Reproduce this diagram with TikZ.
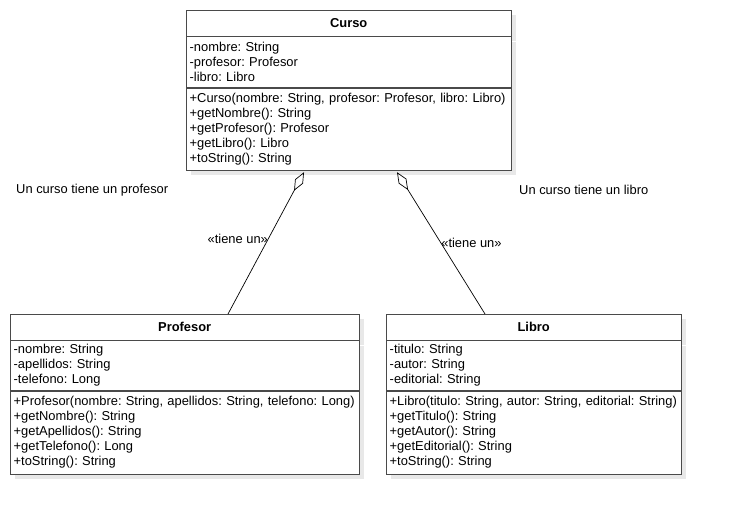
\documentclass[tikz,border=0pt]{standalone}
\usepackage{fontspec}
\setmainfont{Liberation Sans}
\usetikzlibrary{positioning,shadows,arrows.meta}
\definecolor{umlline}{HTML}{4A4A4A}
\definecolor{umlshadow}{HTML}{E8E8E8}
\newcommand{\umlfont}{\fontsize{12.9}{15}\selectfont}
\frenchspacing

\begin{document}
\begin{tikzpicture}[x=1pt, y=-1pt,
  node distance=0pt,
  umlshade/.style={drop shadow={shadow xshift=5pt, shadow yshift=-5pt,
                   fill=umlshadow, opacity=1}},
  classhead/.style={draw=umlline, fill=white, umlshade, inner sep=0pt,
              minimum height=26pt, font=\umlfont\bfseries},
  classpart/.style={draw=umlline, fill=white, umlshade, align=left,
              inner xsep=3.5pt, inner ysep=1pt, font=\umlfont\frenchspacing},
  aggr/.style={{Diamond[open, length=21pt, width=9pt]}-, line width=0.7pt},
  lbl/.style={inner sep=0pt, font=\umlfont},
  note/.style={inner sep=0pt, font=\umlfont, anchor=west}
]
  \fill[white] (0,0) rectangle (738,514);
  \useasboundingbox (0,0) rectangle (738,514);

  % Curso
  \node[classhead, minimum width=325pt, anchor=north west] (cursoH) at (186,10) {Curso};
  \node[classpart, text width=318pt, minimum height=51pt, below=of cursoH] (cursoA)
    {-nombre: String\\-profesor: Profesor\\-libro: Libro};
  \node[classpart, text width=318pt, minimum height=82pt, below=of cursoA] (cursoM)
    {+Curso(nombre: String, profesor: Profesor, libro: Libro)\\+getNombre(): String\\
     +getProfesor(): Profesor\\+getLibro(): Libro\\+toString(): String};

  % Profesor
  \node[classhead, minimum width=349pt, anchor=north west] (profH) at (10,314) {Profesor};
  \node[classpart, text width=342pt, minimum height=50pt, below=of profH] (profA)
    {-nombre: String\\-apellidos: String\\-telefono: Long};
  \node[classpart, text width=342pt, minimum height=83pt, below=of profA] (profM)
    {+Profesor(nombre: String, apellidos: String, telefono: Long)\\+getNombre(): String\\
     +getApellidos(): String\\+getTelefono(): Long\\+toString(): String};

  % Libro
  \node[classhead, minimum width=295pt, anchor=north west] (libroH) at (386,314) {Libro};
  \node[classpart, text width=288pt, minimum height=50pt, below=of libroH] (libroA)
    {-titulo: String\\-autor: String\\-editorial: String};
  \node[classpart, text width=288pt, minimum height=83pt, below=of libroA] (libroM)
    {+Libro(titulo: String, autor: String, editorial: String)\\+getTitulo(): String\\
     +getAutor(): String\\+getEditorial(): String\\+toString(): String};

  % puntos de union
  \coordinate (cursoP) at ([xshift=118pt, yshift=-2pt]cursoM.south west);
  \coordinate (cursoL) at ([xshift=211pt, yshift=-2pt]cursoM.south west);
  \coordinate (profT)  at ([xshift=218pt]profH.north west);
  \coordinate (libroT) at ([xshift=99pt]libroH.north west);

  \draw[aggr] (cursoP) -- node[lbl, pos=0.47, anchor=east] {«tiene un»} (profT);
  \draw[aggr] (cursoL) -- node[lbl, pos=0.50, anchor=west] {«tiene un»} (libroT);

  \node[note] (notaProf)  at (16,190)  {Un curso tiene un profesor};
  \node[note] (notaLibro) at (519,190) {Un curso tiene un libro};
\end{tikzpicture}
\end{document}
